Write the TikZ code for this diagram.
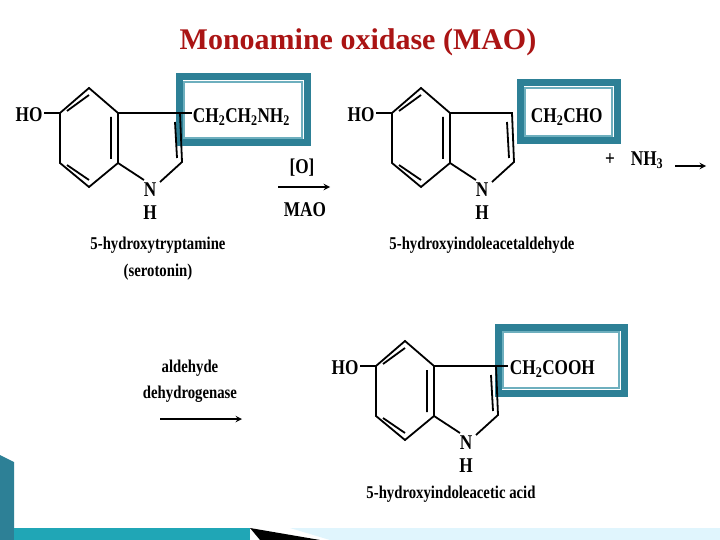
\documentclass[tikz,border=0pt]{standalone}
\usepackage{fontspec}
\setmainfont{Liberation Serif}
\begin{document}
\begin{tikzpicture}[x=1pt,y=-1pt,
  bond/.style={line width=1.8pt},
  lab/.style={font=\fontsize{21}{21}\selectfont\bfseries, inner sep=1pt, xscale=0.82, transform shape},
  cname/.style={font=\fontsize{18}{18}\selectfont\bfseries, inner sep=1pt, xscale=0.82, transform shape},
  frame/.style={draw=frm, line width=7pt},
  inframe/.style={draw=frl, line width=1.5pt}]
\definecolor{frm}{RGB}{45,128,150}
\definecolor{frl}{RGB}{110,175,190}
\useasboundingbox (0,0) rectangle (720,540);
\fill[white] (0,0) rectangle (720,540);
\node[font=\fontsize{30}{30}\selectfont\bfseries, text={rgb,255:red,170;green,20;blue,20}] (title) at (358,42) {Monoamine oxidase (MAO)};
% boxes
\draw[frame] (179,77) rectangle (307,143); \draw[inframe] (184,82) rectangle (302,138);
\draw[frame] (520,83) rectangle (617,141); \draw[inframe] (525,88) rectangle (612,136);
\draw[frame] (498,327) rectangle (624,393); \draw[inframe] (503,332) rectangle (619,388);
% molecules
\foreach \dx/\dy/\n in {0/0/a,332/0/b,316/253/c}{
\begin{scope}[shift={(\dx,\dy)}]
\draw[bond] (60,113)--(89,88)--(118,113)--(118,163)--(89,187)--(60,163)--cycle;
\draw[bond] (67,111)--(89,95) (111,117)--(111,159) (67,165)--(89,180);
\draw[bond] (44,113)--(60,113);
\draw[bond] (118,113)--(180,113)--(182,162)--(160,182);
\draw[bond] (175,122)--(177,158);
\draw[bond] (118,163)--(144,180);
\node[lab] at (29,115) {HO};
\node[lab] at (150,190) {N};
\node[lab] at (150,213) {H};
\end{scope}}
\draw[bond] (180,113)--(192,113);
\node[lab,anchor=west] at (192,117) {CH\textsubscript{2}CH\textsubscript{2}NH\textsubscript{2}};
\node[lab,anchor=west] at (530,117) {CH\textsubscript{2}CHO};
\draw[bond] (496,366)--(508,366);
\node[lab,anchor=west] at (509,369) {CH\textsubscript{2}COOH};
\node[cname] at (158,245) {5-hydroxytryptamine};
\node[cname] at (158,272) {(serotonin)};
\node[cname] at (482,245) {5-hydroxyindoleacetaldehyde};
\node[cname] at (451,494) {5-hydroxyindoleacetic acid};
\node[lab] (ox) at (302,168) {[O]};
\node[lab] (mao) at (305,210) {MAO};
\draw[bond,-stealth] (278,187)--(330,187);
\node[lab] at (610,160) {+};
\node[lab] at (647,160) {NH\textsubscript{3}};
\draw[bond,-stealth] (675,166)--(706,166);
\node[cname] at (190,368) {aldehyde};
\node[cname] at (190,394) {dehydrogenase};
\draw[bond,-stealth] (160,419)--(242,419);
% decoration
\fill[frm] (0,455) -- (14,462) -- (14,540) -- (0,540) -- cycle;
\fill[frm!70!cyan] (14,528) rectangle (250,540);
\fill[black] (250,528) -- (320,540) -- (260,540) -- cycle;
\fill[cyan!12] (290,528) -- (720,528) -- (720,540) -- (330,540) -- cycle;
\end{tikzpicture}
\end{document}
